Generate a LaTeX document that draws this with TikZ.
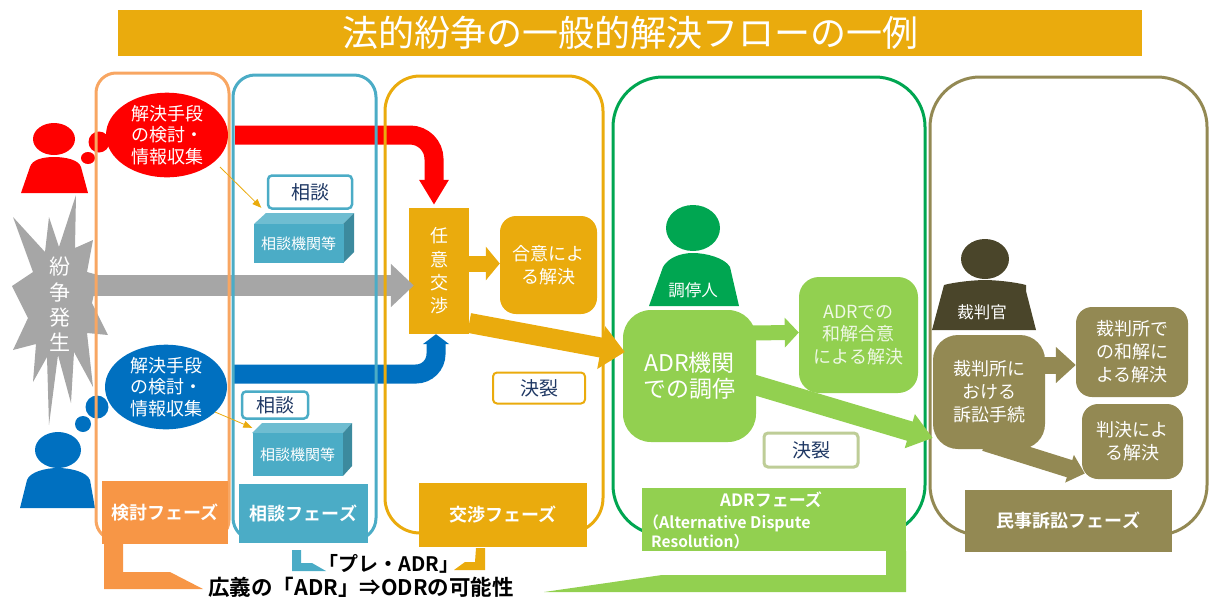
\documentclass[tikz,border=0pt]{standalone}
\usepackage{fontspec}
\setmainfont{Noto Sans CJK JP}[BoldFont=* Bold]
\usepackage{tikz}
\usetikzlibrary{positioning,calc,shapes,arrows.meta}
\definecolor{cred}{HTML}{FF0000}
\definecolor{cblue}{HTML}{0070C0}
\definecolor{cgray}{HTML}{A6A6A6}
\definecolor{corange}{HTML}{F79646}
\definecolor{cteal}{HTML}{4BACC6}
\definecolor{cgold}{HTML}{EAAB0D}
\definecolor{cgreen}{HTML}{00A651}
\definecolor{clime}{HTML}{92D050}
\definecolor{colive}{HTML}{938953}
\definecolor{cdark}{HTML}{4A452A}
\definecolor{cnavy}{HTML}{1F3864}
\pgfdeclarelayer{bg}
\pgfdeclarelayer{mid}
\pgfsetlayers{bg,mid,main}
\newcommand{\fs}[1]{\fontsize{#1}{#1}\selectfont}
\tikzstyle{panel}=[rectangle, line width=3pt, inner sep=0pt]
\tikzstyle{thought}=[ellipse, inner sep=0pt, minimum width=122pt, minimum height=79pt, text=white, align=center, font=\fs{18}\linespread{1.2}\selectfont]
\tikzstyle{phase}=[rectangle, inner sep=0pt, text=white, font=\fs{18}\bfseries, align=center]
\tikzstyle{result}=[rectangle, rounded corners=16pt, inner sep=0pt, text=white, align=center, font=\fs{18}\linespread{1.27}\selectfont]
\tikzstyle{tag}=[rectangle, rounded corners=4pt, fill=white, text=cnavy, inner sep=0pt, font=\fs{19}]
\tikzstyle{front}=[rectangle, fill=cteal, inner sep=0pt, minimum width=90pt, text=white, font=\fs{15}]
\tikzstyle{thinarrow}=[-{Triangle[length=9pt,width=7pt]}, cgold, line width=0.8pt]
\begin{document}
\begin{tikzpicture}[x=1pt,y=-1pt]
	\useasboundingbox (0,0) rectangle (1209,598);

	\node[rectangle, fill=cgold, minimum width=1024pt, minimum height=46pt, text=white, font=\fs{36}] (title) at (630,33) {法的紛争の一般的解決フローの一例};

	\node[thought, fill=cred] (rthought) at (167,135) {解決手段\\の検討・\\情報収集};
	\node[thought, fill=cblue] (bthought) at (166,387) {解決手段\\の検討・\\情報収集};

	\node[result, fill=cgold, minimum width=97pt, minimum height=98pt] (agree) at (548.5,265) {合意によ\\る解決};
	\node[tag, draw=cgold, line width=2pt, minimum width=92pt, minimum height=31pt] (break1) at (539,388) {決裂};

	\node[tag, draw=cteal, line width=2.5pt, minimum width=84pt, minimum height=33pt] (rtalk) at (310,192) {相談};
	\node[tag, draw=cteal, line width=2.5pt, minimum width=66pt, minimum height=27pt] (btalk) at (275,405) {相談};

	\fill[cteal!80!white] (254,224) -- (266,213) -- (354,213) -- (343,224) -- cycle;
	\fill[cteal!80!black] (343,224) -- (354,213) -- (354,252) -- (343,263) -- cycle;
	\node[front, minimum height=39pt] (rdesk) at (298.5,243.5) {相談機関等};
	\fill[cteal!80!white] (252,433) -- (262,423) -- (352,423) -- (343,433) -- cycle;
	\fill[cteal!80!black] (343,433) -- (352,423) -- (352,466) -- (343,476) -- cycle;
	\node[front, minimum height=43pt] (bdesk) at (297.5,454.5) {相談機関等};

	\node[result, fill=clime, rounded corners=28pt, minimum width=133pt, minimum height=132pt, font=\fs{23}\linespread{1.15}\selectfont] (adrbox) at (689.5,376) {ADR機関\\での調停};
	\node[result, fill=clime, rounded corners=20pt, minimum width=119pt, minimum height=116pt, text=white!85!clime] (adragree) at (858.5,335) {ADRでの\\和解合意\\による解決};
	\node[tag, draw=clime!50!colive!60!white, line width=3pt, minimum width=94pt, minimum height=34pt] (break2) at (811,450) {決裂};

	\node[result, fill=colive, rounded corners=25pt, minimum width=112pt, minimum height=114pt] (courtbox) at (989,392) {裁判所に\\おける\\訴訟手続};
	\node[result, fill=colive, minimum width=112pt, minimum height=90pt] (courtagree) at (1132,352) {裁判所で\\の和解に\\よる解決};
	\node[result, fill=colive, minimum width=101pt, minimum height=75pt] (judgment) at (1132.5,441.5) {判決によ\\る解決};

	\node[phase, fill=corange, minimum width=126pt, minimum height=63pt] (pkentou) at (165,512.5) {検討フェーズ};
	\node[phase, fill=cteal, minimum width=129pt, minimum height=59pt] (psoudan) at (303.5,513.5) {相談フェーズ};
	\node[phase, fill=cgold, minimum width=168pt, minimum height=64pt] (pkoushou) at (503,515) {交渉フェーズ};
	\node[phase, fill=clime, minimum width=264pt, minimum height=63pt] (padr) at (774,519.5) {};
	\node[text=white, font=\fs{17}\bfseries, inner sep=0pt] (tadr) at (771,500) {ADRフェーズ};
	\node[text=white, font=\fs{16}\bfseries, inner sep=0pt, anchor=west] (talt) at (643,523) {（Alternative Dispute};
	\node[text=white, font=\fs{15.5}\bfseries, inner sep=0pt, anchor=west] (tres) at (651,542) {Resolution）};
	\node[phase, fill=colive, minimum width=207pt, minimum height=62pt] (pminji) at (1068.5,521) {民事訴訟フェーズ};

	\node[text=white, font=\fs{16.5}, inner sep=0pt] (mediator) at (693,290) {調停人};
	\node[text=white, font=\fs{16.5}, inner sep=0pt] (judge) at (982,312) {裁判官};
	\node[text=white, align=center, inner sep=0pt, font=\fs{21}\linespread{1.21}\selectfont] (burst) at (60,304.5) {紛\\争\\発\\生};

	\node[inner sep=0pt, font=\fs{20}\bfseries] (pre) at (389,564) {「プレ・ADR」};
	\node[inner sep=0pt, font=\fs{21.5}\bfseries] (wide) at (361,587) {広義の「ADR」⇒ODRの可能性};

	\fill[corange] (104,543) -- (123,543) -- (123,572) -- (170,572) -- (203,589) -- (104,589) -- cycle;
	\fill[cteal] (292,550) -- (301,550) -- (301,563) -- (312,563) -- (326,571) -- (292,571) -- cycle;
	\fill[cgold] (485,548) -- (476,548) -- (475,562) -- (465,562) -- (454,570) -- (485,570) -- cycle;
	\fill[clime] (906,551) -- (906,592) -- (544,592) -- (662,575) -- (886,575) -- (886,551) -- cycle;

	\draw[-{Triangle[length=14pt,width=29pt]}, clime, line width=15pt] ([xshift=-15pt,yshift=43pt]adrbox.east) -- (adragree.west |- 0,332.5);
	\draw[-{Triangle[length=24pt,width=34pt]}, clime, line width=20pt] ([xshift=-20pt,yshift=-3.4pt]adrbox.east) -- ([yshift=-46pt]courtbox.west);
	\draw[-{Triangle[length=20pt,width=35pt]}, colive, line width=17pt] ([xshift=-5pt,yshift=27pt]courtbox.east) -- (courtagree.west |- 0,365);
	\draw[-{Triangle[length=16pt,width=28pt]}, colive, line width=18pt] ([xshift=-4pt,yshift=7pt]courtbox.south) -- ([xshift=3pt,yshift=-32pt]judgment.west);

	\draw[thinarrow] ([xshift=53pt,yshift=-32pt]rthought.center) -- ([xshift=8pt,yshift=16pt]rdesk.north west);
	\draw[thinarrow] ([xshift=49pt,yshift=-25pt]bthought.center) -- ([yshift=5pt]bdesk.north west);

	\begin{pgfonlayer}{mid}
		\node[panel, draw=corange!85!white, rounded corners=20pt, minimum width=133pt, minimum height=467pt] (fkentou) at (162.5,306.5) {};
		\node[panel, draw=cteal, rounded corners=22pt, minimum width=143pt, minimum height=465pt] (fsoudan) at (304.5,307.5) {};
		\node[panel, draw=cgold, rounded corners=35pt, minimum width=218pt, minimum height=457pt] (fkoushou) at (494,304.5) {};
		\node[panel, draw=cgreen, rounded corners=50pt, minimum width=312pt, minimum height=458pt] (fadr) at (769,306) {};
		\node[panel, draw=colive, rounded corners=50pt, minimum width=277pt, minimum height=458pt] (fminji) at (1068.5,306) {};
	\end{pgfonlayer}

	\begin{pgfonlayer}{bg}
		\fill[cgray] (76,195) -- (75,248) -- (93,240) -- (87,272) -- (98,275) -- (92,303) -- (108,335) -- (87,333) -- (93,387) -- (74,352) -- (71,403) -- (58,355) -- (49,425) -- (47,357) -- (33,382) -- (36,344) -- (13,350) -- (28,318) -- (12,286) -- (33,272) -- (13,217) -- (45,252) -- (49,217) -- (59,247) -- cycle;

		\node[rectangle, fill=cgold, minimum width=60pt, minimum height=126pt, text=white, align=center, font=\fs{18}\linespread{1.3}\selectfont] (nego) at (439,271) {任\\意\\交\\渉};

		\draw[-{Triangle[length=14pt,width=33pt]}, cgold, line width=16pt] (nego.east |- 0,263.5) -- (agree.west |- 0,263.5);
		\draw[-{Triangle[length=23pt,width=42pt]}, cgray, line width=21pt] (burst.center |- 0,285.5) -- ([xshift=5pt]nego.west |- 0,285.5);
		\draw[-{Triangle[length=25pt,width=28pt]}, cred, line width=19pt, rounded corners=24pt, shorten <=7pt, shorten >=3pt] (rthought.east) -- ([xshift=-5pt]nego.north |- rthought.east) -- ([xshift=-5pt]nego.north);
		\draw[-{Triangle[length=10pt,width=26pt]}, cblue, line width=19pt, rounded corners=20pt, shorten <=6pt] ([yshift=13pt]bthought.east) -- ([xshift=-3pt,yshift=13pt]nego.south |- bthought.east) -- ([xshift=-3pt]nego.south);

		\fill[cred] (54,139) ellipse (21pt and 16pt);
		\fill[cred] (21,193) -- (30,167) .. controls (32,160) and (42,157) .. (54,157) .. controls (66,157) and (79,160) .. (81,167) -- (88,193) -- cycle;
		\fill[cred] (99,142) circle (10.5pt);
		\fill[cred] (88,158) ellipse (7pt and 6pt);

		\fill[cblue] (58,450) ellipse (23pt and 18pt);
		\fill[cblue] (20,508) -- (27,480) .. controls (30,472) and (45,468) .. (58,468) .. controls (71,468) and (87,472) .. (90,480) -- (95,508) -- cycle;
		\fill[cblue] (97,407) circle (11.5pt);
		\fill[cblue] (83,424) circle (8pt);

		\fill[cgreen] (693,228) ellipse (27pt and 23pt);
		\fill[cgreen] (649,306) -- (663,267) .. controls (668,258) and (680,253) .. (693,253) .. controls (706,253) and (725,258) .. (730,267) -- (739,306) -- cycle;

		\fill[cdark] (985,259) ellipse (24pt and 20pt);
		\fill[cdark] (932,330) -- (944,285) .. controls (955,282) and (975,280) .. (985,280) .. controls (995,280) and (1015,282) .. (1026,285) -- (1026,291) -- (1036,330) -- cycle;
	\end{pgfonlayer}

	\draw[-{Triangle[length=24pt,width=42pt]}, cgold, line width=20pt] ([yshift=-52pt]nego.east) -- ([xshift=2pt,yshift=24pt]adrbox.west);
\end{tikzpicture}
\end{document}
